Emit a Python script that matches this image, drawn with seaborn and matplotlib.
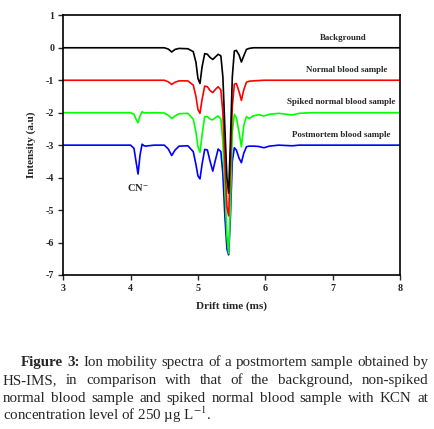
import numpy as np
import pandas as pd
import seaborn as sns
import matplotlib.pyplot as plt

# drift time grid (ms), denser around the peaks
drift = [3.0, 3.5, 3.8, 4.0, 4.05, 4.08, 4.11, 4.14, 4.17, 4.20, 4.23, 4.26,
         4.35, 4.5, 4.56, 4.61, 4.66, 4.72, 4.85, 4.93, 4.97, 5.00, 5.03, 5.06,
         5.10, 5.14, 5.18, 5.22, 5.26, 5.30, 5.34, 5.37, 5.40, 5.43, 5.455, 5.48,
         5.51, 5.54, 5.57, 5.61, 5.645, 5.68, 5.72, 5.76, 5.82, 5.9, 5.98, 6.06,
         6.2, 6.4, 6.5, 6.7, 7.0, 7.5, 8.0]

background = [0, 0, 0, 0, 0, 0, 0, 0, 0, 0, 0, 0,
              0, 0, -0.04, -0.13, -0.05, -0.02, -0.03, -0.12, -0.45, -0.95, -1.1, -0.6,
              -0.18, -0.2, -0.3, -0.36, -0.28, -0.2, -0.25, -0.9, -2.5, -4.0, -4.48, -3.0,
              -0.9, -0.1, -0.08, -0.22, -0.44, -0.25, -0.05, -0.02, 0, 0, 0, 0,
              0, 0, 0, 0, 0, 0, 0]

normal = [-1, -1, -1, -1, -1, -1, -1, -1, -1, -1, -1, -1,
          -1, -1, -1.05, -1.13, -1.06, -1.02, -1.02, -1.15, -1.5, -1.9, -2.02, -1.6,
          -1.18, -1.2, -1.32, -1.38, -1.28, -1.2, -1.3, -2.0, -3.5, -4.9, -5.18, -3.8,
          -1.8, -1.12, -1.1, -1.35, -1.62, -1.3, -1.06, -1.03, -1.02, -1.01, -1.0, -1.0,
          -1, -1, -1, -1, -1, -1, -1]

spiked = [-2, -2, -2, -2, -2.05, -2.2, -2.31, -2.1, -1.97, -2.01, -2.0, -2.01,
          -2.0, -2.01, -2.08, -2.18, -2.1, -2.03, -2.02, -2.2, -2.6, -3.05, -3.22, -2.7,
          -2.12, -2.12, -2.2, -2.22, -2.15, -2.1, -2.2, -2.9, -4.3, -5.8, -6.33, -5.0,
          -2.6, -2.05, -2.15, -2.6, -3.05, -2.4, -2.12, -2.18, -2.1, -2.06, -2.1, -2.05,
          -2.02, -2.07, -2.02, -2.0, -2.0, -2.0, -2.0]

postmortem = [-3, -3, -3, -3.0, -3.1, -3.5, -3.89, -3.3, -2.97, -3.02, -3.03, -3.02,
              -3.0, -3.0, -3.12, -3.32, -3.15, -3.03, -3.02, -3.2, -3.6, -3.95, -4.04, -3.6,
              -3.13, -3.15, -3.5, -3.8, -3.45, -3.12, -3.2, -3.9, -5.2, -6.2, -6.38, -5.3,
              -3.5, -3.08, -3.15, -3.4, -3.54, -3.25, -3.05, -3.03, -3.03, -3.04, -3.08, -3.03,
              -3.0, -3.02, -3.0, -3.0, -3.0, -3.0, -3.0]

samples = ["Background", "Normal blood sample", "Spiked normal blood sample",
           "Postmortem blood sample"]
colors = ["black", "#ff0000", "#00ff00", "#0000ff"]
label_pos = [(7.16, 0.31), (7.21, -0.68), (7.13, -1.66), (7.13, -2.69)]

df = pd.concat([
    pd.DataFrame({"drift": drift, "intensity": vals, "sample": name})
    for name, vals in zip(samples, [background, normal, spiked, postmortem])
])

sns.set_style("ticks")
plt.rcParams["font.family"] = ["Liberation Serif", "DejaVu Serif"]
plt.rcParams["mathtext.fontset"] = "stix"
plt.rcParams["axes.unicode_minus"] = False

fig = plt.figure(figsize=(4.35, 4.29), dpi=100)
ax = fig.add_axes([0.1455, 0.359, 0.774, 0.6053])

# draw postmortem first so background ends on top
order = samples[::-1]
sns.lineplot(data=df, x="drift", y="intensity", hue="sample", hue_order=order,
             palette=dict(zip(samples, colors)), estimator=None, sort=False,
             linewidth=1.2, legend=False, ax=ax)

for name, (x, y) in zip(samples, label_pos):
    ax.text(x, y, name, ha="center", va="center", fontsize=6.4, fontweight="bold")
ax.text(4.11, -4.3, r"CN$^{-}$", ha="center", va="center", fontsize=7.5, fontweight="bold")

ax.set_xlim(3, 8)
ax.set_ylim(-7, 1)
ax.set_xticks(range(3, 9))
ax.set_yticks(range(-7, 2))
ax.tick_params(labelsize=7.2, length=3.5, width=1, direction="out", pad=3)
for lab in ax.get_xticklabels() + ax.get_yticklabels():
    lab.set_fontweight("bold")
for sp in ax.spines.values():
    sp.set_linewidth(1.2)
    sp.set_color("black")
ax.set_xlabel("Drift time (ms)", fontsize=8, fontweight="bold", labelpad=6)
ax.set_ylabel("Intensity (a.u)", fontsize=8, fontweight="bold", labelpad=7)

# justified caption
caption = [
    [("Figure 3:", "bold"), ("Ion mobility spectra of a postmortem sample obtained by", "normal")],
    [("HS-IMS, in comparison with that of the background, non-spiked", "normal")],
    [("normal blood sample and spiked normal blood sample with KCN at", "normal")],
    [("concentration level of 250 \u00b5g L$^{-1}$.", "normal")],
]
line_y = [366, 384, 402, 420]
W, H = 435, 429
cap_size = 10.8
renderer = fig.canvas.get_renderer()
for i, (parts, ypx) in enumerate(zip(caption, line_y)):
    left = 21 if i == 0 else 3
    right = 428
    if i == len(caption) - 1:
        fig.text(left / W, 1 - ypx / H, parts[0][0], fontsize=cap_size,
                 va="baseline", ha="left")
        continue
    words = []
    for txt, weight in parts:
        words += [(w, weight) for w in txt.split(" ")]
    objs = [fig.text(0, 1 - ypx / H, w, fontsize=cap_size, fontweight=wt,
                     va="baseline", ha="left") for w, wt in words]
    widths = [o.get_window_extent(renderer).width for o in objs]
    gap = (right - left - sum(widths)) / (len(objs) - 1)
    x = left
    for o, w in zip(objs, widths):
        o.set_x(x / W)
        x += w + gap

fig.savefig("out.png", dpi=100)
